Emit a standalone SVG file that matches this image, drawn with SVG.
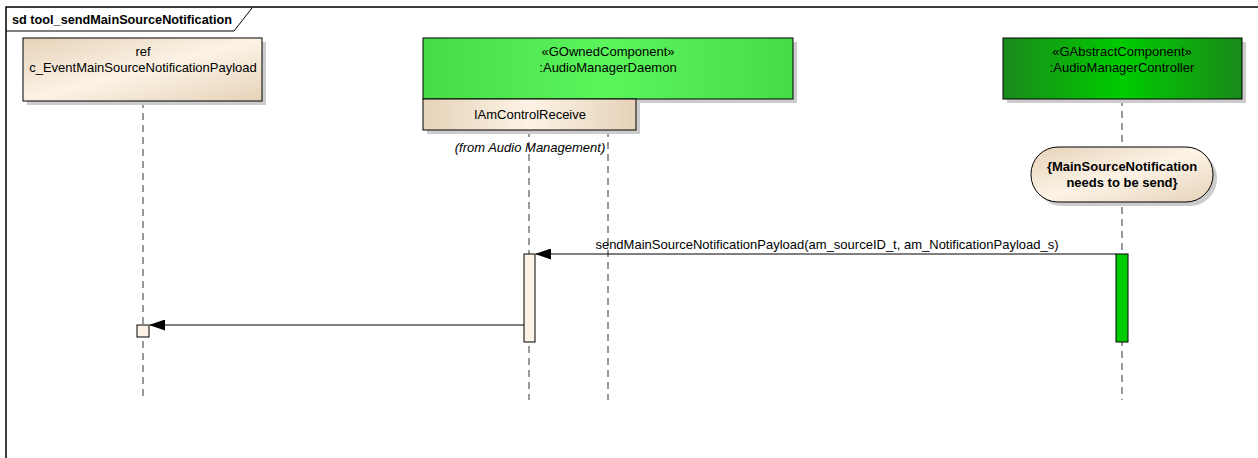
<svg xmlns="http://www.w3.org/2000/svg" width="1258" height="458" viewBox="0 0 1258 458">
<defs>
<linearGradient id="beige" x1="0" y1="0" x2="1" y2="0">
<stop offset="0" stop-color="#E6D2B8"/><stop offset="0.5" stop-color="#FCF3E6"/><stop offset="1" stop-color="#E6D2B8"/>
</linearGradient>
<linearGradient id="beigeV" x1="0" y1="0" x2="1" y2="1">
<stop offset="0" stop-color="#E6D2B8"/><stop offset="0.5" stop-color="#FCF3E6"/><stop offset="1" stop-color="#E6D2B8"/>
</linearGradient>
<linearGradient id="lgreen" x1="0" y1="0" x2="1" y2="0">
<stop offset="0" stop-color="#46DC46"/><stop offset="0.5" stop-color="#5CF55C"/><stop offset="1" stop-color="#46DC46"/>
</linearGradient>
<linearGradient id="dgreen" x1="0" y1="0" x2="1" y2="0">
<stop offset="0" stop-color="#1A8A1A"/><stop offset="0.5" stop-color="#00CC00"/><stop offset="1" stop-color="#1A8A1A"/>
</linearGradient>
<marker id="arr" markerWidth="16" markerHeight="11" refX="15" refY="5.5" orient="auto" markerUnits="userSpaceOnUse">
<path d="M0,0 L16,5.5 L0,11 Z" fill="#000"/>
</marker>
<style>
text{font-family:"Liberation Sans",Arial,sans-serif;font-size:13px;fill:#000}
.t{text-anchor:middle}
.b{font-weight:bold}
.i{font-style:italic}
.box{stroke:#000;stroke-width:1}
.sh{fill:#CCCCCC}
.life{stroke:#333;stroke-width:1;stroke-dasharray:7,5;fill:none}
.msg{stroke:#000;stroke-width:1;fill:none}
</style>
</defs>
<g id="frame">
<path d="M6,458 L6,7 L1258,7" fill="none" stroke="#000" stroke-width="1.5"/>
<path d="M6,31 L234,31 L252,8" fill="none" stroke="#000" stroke-width="1"/>
<text x="12" y="24" class="b" style="font-size:12.7px">sd tool_sendMainSourceNotification</text>
</g>
<g id="connectors">
<line class="life" x1="143" y1="101" x2="143" y2="400"/>
<line class="life" x1="529" y1="130" x2="529" y2="400"/>
<line class="life" x1="608" y1="130" x2="608" y2="400"/>
<line class="life" x1="1122" y1="99" x2="1122" y2="400"/>
<line class="msg" x1="1116" y1="254" x2="536" y2="254" marker-end="url(#arr)"/>
<text x="827" y="249" class="t">sendMainSourceNotificationPayload(am_sourceID_t, am_NotificationPayload_s)</text>
<line class="msg" x1="524" y1="325" x2="150" y2="325" marker-end="url(#arr)"/>
</g>
<g id="ref">
<rect class="sh" x="27" y="42" width="239" height="63"/>
<rect class="box" x="23" y="38" width="239" height="63" fill="url(#beigeV)"/>
<text x="143" y="56" class="t">ref</text>
<text x="143" y="72" class="t">c_EventMainSourceNotificationPayload</text>
</g>
<g id="daemon">
<rect class="sh" x="427" y="42" width="370" height="61"/>
<rect class="box" x="423" y="38" width="370" height="61" fill="url(#lgreen)"/>
<text x="608" y="56" class="t">«GOwnedComponent»</text>
<text x="608" y="72" class="t">:AudioManagerDaemon</text>
</g>
<g id="iamcontrolreceive">
<rect class="sh" x="427" y="103" width="213" height="31"/>
<rect class="box" x="423" y="99" width="213" height="31" fill="url(#beige)"/>
<text x="530" y="119" class="t">IAmControlReceive</text>
<text x="530" y="152" class="t i">(from Audio Management)</text>
</g>
<g id="controller">
<rect class="sh" x="1007" y="42" width="239" height="61"/>
<rect class="box" x="1003" y="38" width="239" height="61" fill="url(#dgreen)"/>
<text x="1122" y="56" class="t">«GAbstractComponent»</text>
<text x="1122" y="72" class="t">:AudioManagerController</text>
</g>
<g id="invariant">
<rect class="sh" x="1035" y="151" width="182" height="55" rx="27" ry="27"/>
<rect class="box" x="1031" y="147" width="182" height="55" rx="27" ry="27" fill="url(#beigeV)"/>
<text x="1122" y="171" class="t b">{MainSourceNotification</text>
<text x="1122" y="187" class="t b">needs to be send}</text>
</g>
<g id="act-daemon">
<rect class="box" x="524" y="254" width="11" height="88" fill="#FCF3E6"/>
</g>
<g id="act-controller">
<rect class="box" x="1116" y="254" width="12" height="88" fill="#00CC00"/>
</g>
<g id="act-ref">
<rect class="box" x="137" y="325" width="12" height="12" fill="#FCF3E6"/>
</g>
</svg>
